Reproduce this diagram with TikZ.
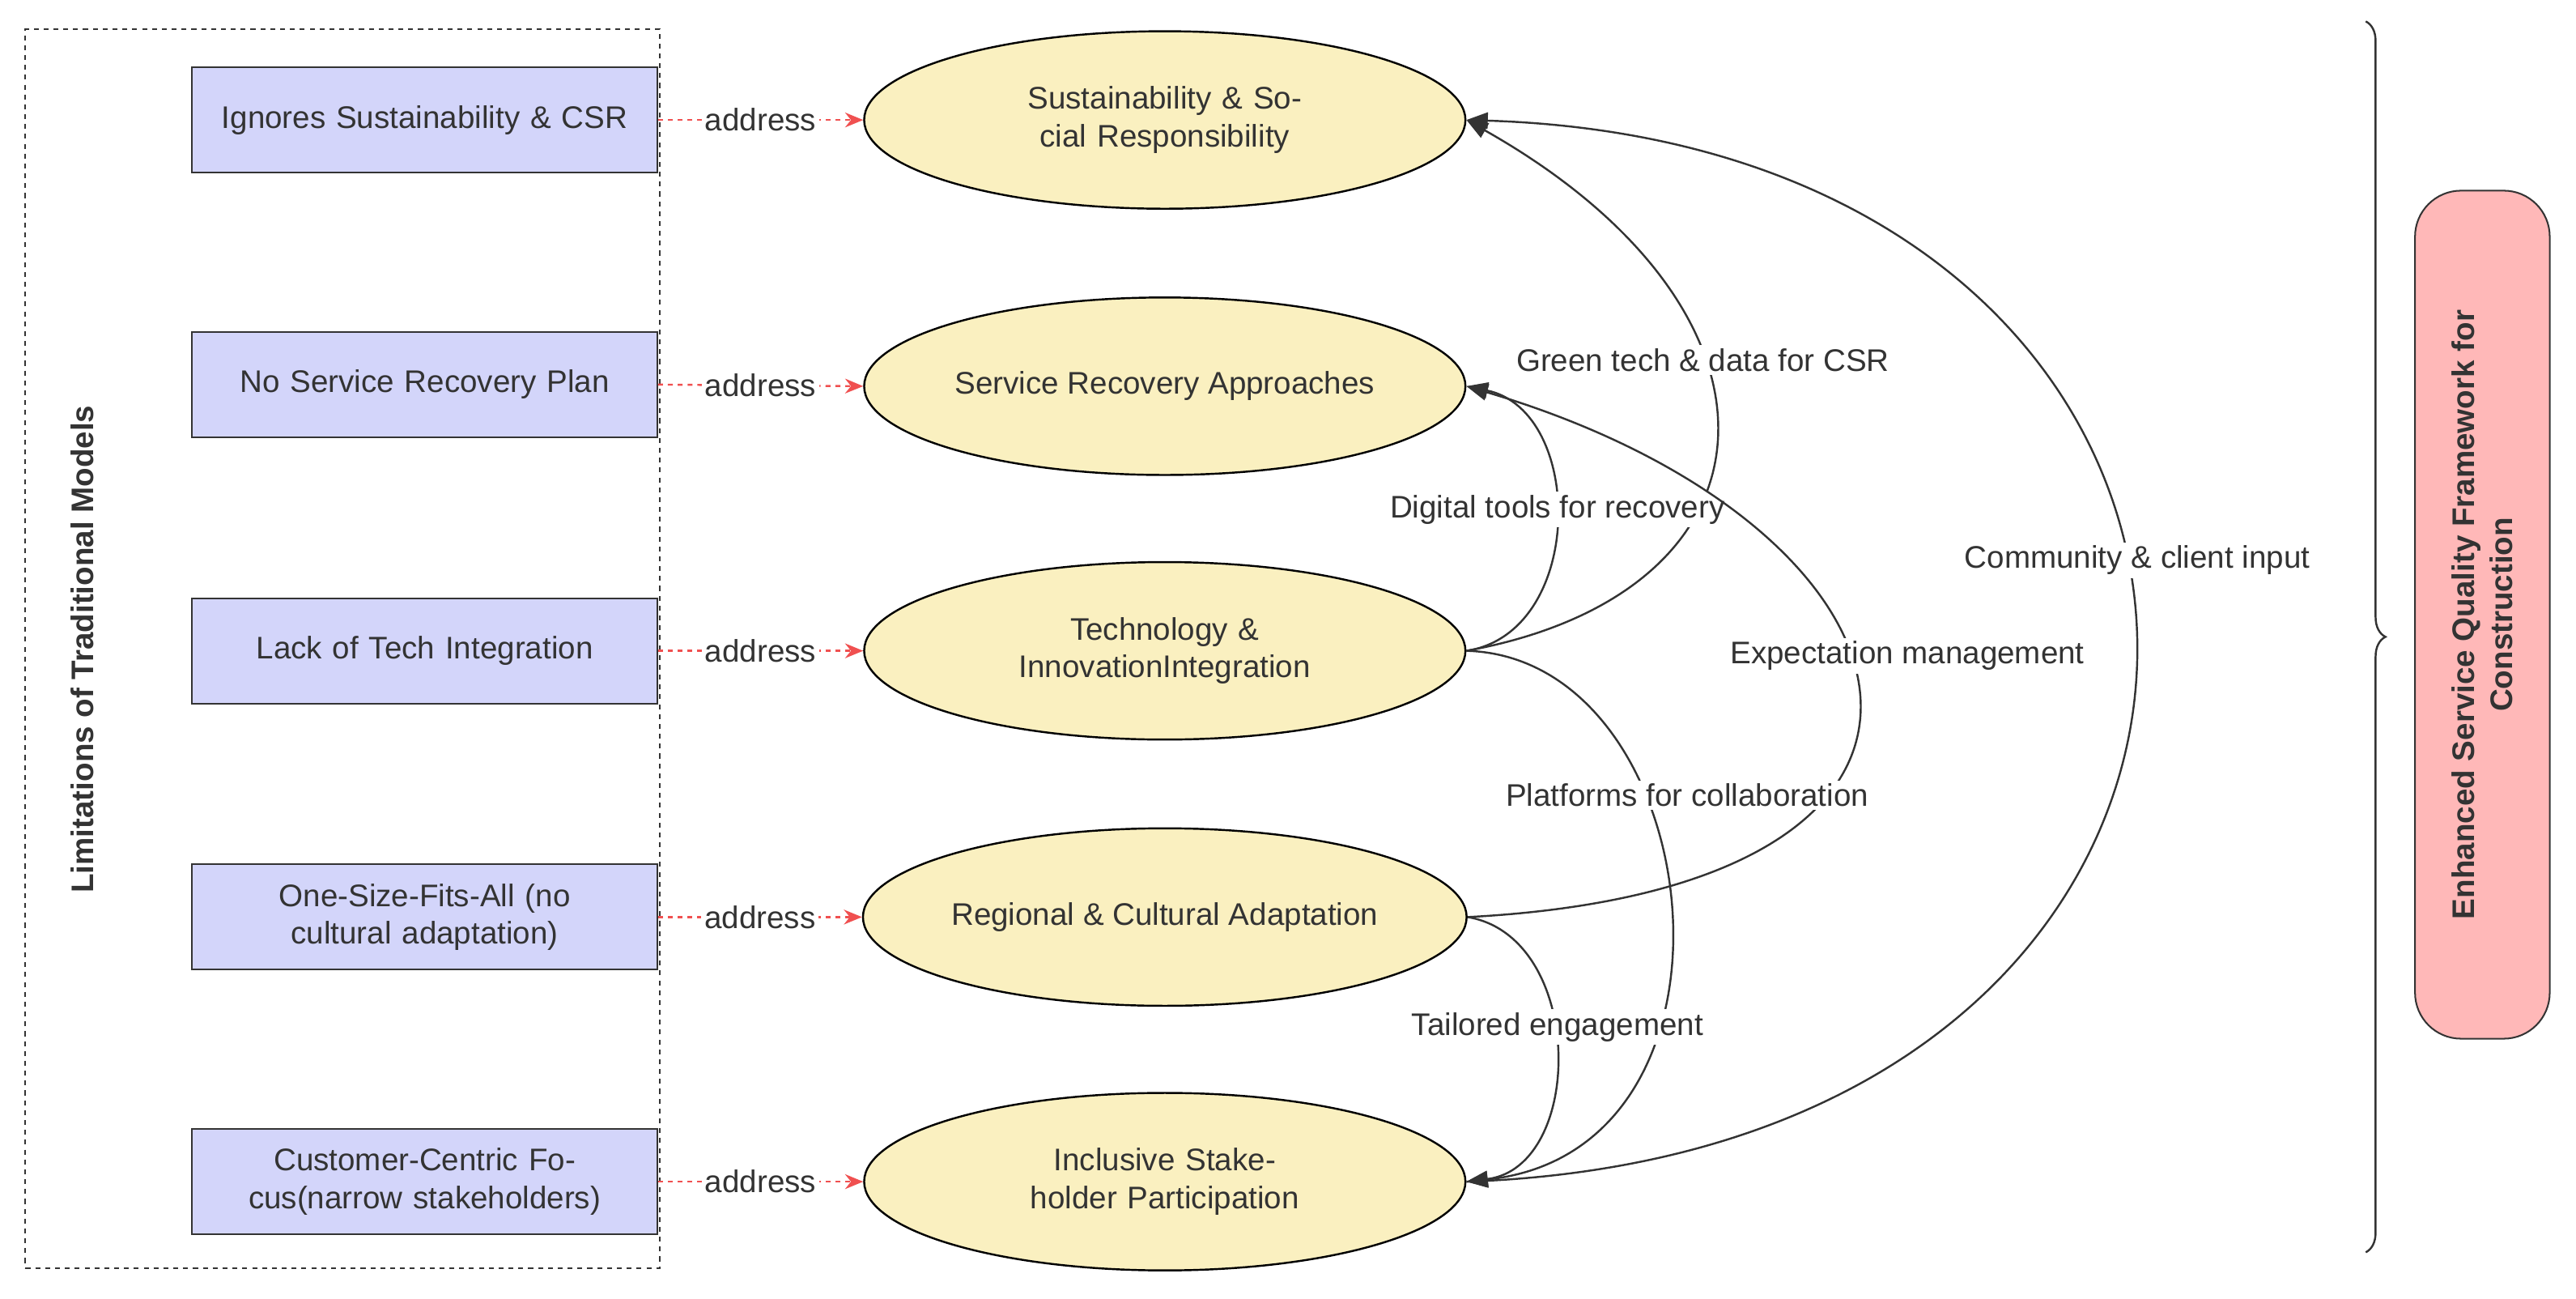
\documentclass[tikz,border=0pt]{standalone}
\usepackage{fontspec}
\setmainfont{Liberation Sans}
\usetikzlibrary{shapes.geometric,arrows.meta,decorations.pathreplacing}
\definecolor{boxblue}{HTML}{D3D5FA}
\definecolor{ellyel}{HTML}{FAF0C0}
\definecolor{pinkf}{HTML}{FFB8B8}
\definecolor{addr}{HTML}{F05050}
\begin{document}
\begin{tikzpicture}[x=1pt,y=-1pt,
  every node/.style={font=\fontsize{19}{23}\selectfont, text=black!80},
  lim/.style={draw=black!80, line width=1pt, fill=boxblue, minimum width=283, minimum height=64, align=center, text width=270},
  ell/.style={ellipse, draw=black, line width=1.2pt, fill=ellyel, minimum width=366, minimum height=108, align=center, inner sep=0pt},
  adr/.style={draw=addr, dashed, line width=1.2pt, -{Stealth[length=11pt,width=9pt]}},
  lnk/.style={draw=black!80, line width=1.2pt, -{Triangle[length=13pt,width=10pt]}},
  lbl/.style={fill=white, inner sep=2pt}]
\useasboundingbox (0,0) rectangle (1568,790);
\fill[white] (0,0) rectangle (1568,790);
\node[draw=black!80, dashed, line width=1pt, minimum width=386, minimum height=754, anchor=north west] (frame) at (15,17) {};
\node[rotate=90, font=\bfseries\fontsize{19}{23}\selectfont] (ltitle) at (50,395) {Limitations of Traditional Models};
\foreach \n/\y/\t in {b1/73/{Ignores Sustainability \& CSR}, b2/234/{No Service Recovery Plan}, b3/396/{Lack of Tech Integration}, b4/558/{One-Size-Fits-All (no cultural adaptation)}, b5/719/{Customer-Centric Focus(narrow stakeholders)}}
  \node[lim] (\n) at (258.5,\y) {\t};
\node[ell, text width=250] (e1) at (709,73) {Sustainability \& Social Responsibility};
\node[ell] (e2) at (709,235) {Service Recovery Approaches};
\node[ell, text width=250] (e3) at (709,396) {Technology \&\\InnovationIntegration};
\node[ell] (e4) at (709,558) {Regional \& Cultural Adaptation};
\node[ell, text width=250] (e5) at (709,719) {Inclusive Stakeholder Participation};
\foreach \i in {1,...,5}
  \draw[adr] (b\i.east) -- node[lbl, text=black!80] {address} (e\i.west);
% curves
\draw[lnk] (e3.east) .. controls (1090,360) and (1100,190) .. node[lbl, pos=0.62] {Green tech \& data for CSR} (e1.east);
\draw[lnk] (e3.east) .. controls (965,385) and (965,250) .. (e2.east);
\node[lbl] (l2) at (948,310) {Digital tools for recovery};
\draw[lnk] (e4.east) .. controls (1240,540) and (1180,320) .. (e2.east);
\node[lbl] (l3) at (1161,399) {Expectation management};
\draw[lnk] (e3.east) .. controls (1040,400) and (1075,700) .. (e5.east);
\node[lbl] (l4) at (1027,484) {Platforms for collaboration};
\draw[lnk] (e4.east) .. controls (965,570) and (965,710) .. (e5.east);
\node[lbl] (l5) at (948,625) {Tailored engagement};
\draw[lnk] (e5.east) .. controls (1440,700) and (1430,90) .. (e1.east);
\node[lbl] (l6) at (1301,341) {Community \& client input};
% brace
\draw[black!80, line width=1.2pt, decorate, decoration={brace, amplitude=12pt}] (1440,13) -- (1440,762);
\node[draw=black!80, line width=1pt, fill=pinkf, rounded corners=28pt, minimum width=82, minimum height=516] (fw) at (1511,374) {};
\node[rotate=90, align=center, font=\bfseries\fontsize{19}{23}\selectfont] (fwt) at (1511,374) {Enhanced Service Quality Framework for\\Construction};
\end{tikzpicture}
\end{document}
